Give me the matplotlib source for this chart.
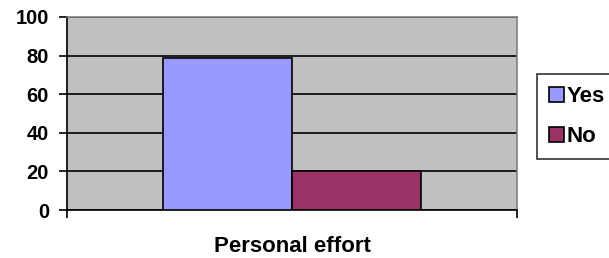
import matplotlib
matplotlib.use("Agg")
import matplotlib.pyplot as plt
from matplotlib.patches import Patch

# Data
category = "Personal effort"
series_names = ["Yes", "No"]
values = [79, 20]
colors = ["#9999FF", "#993366"]
yticks = [0, 20, 40, 60, 80, 100]

plt.rcParams["font.family"] = ["Liberation Sans", "DejaVu Sans"]

fig = plt.figure(figsize=(6.09, 2.58), dpi=100)
ax = fig.add_axes([67 / 609, 1 - 210 / 258, 450 / 609, 193 / 258])
ax.set_facecolor("#C0C0C0")

width = 0.287
offsets = [-width / 2, width / 2]
for name, val, col, off in zip(series_names, values, colors, offsets):
    ax.bar(off, val, width=width, color=col, edgecolor="black", linewidth=1.2, zorder=3)

ax.set_xlim(-0.5, 0.5)
ax.set_ylim(0, 100)
ax.set_yticks(yticks)
ax.set_yticklabels([str(t) for t in yticks], fontsize=14.5, fontweight="bold")
ax.yaxis.grid(True, color="black", linewidth=1.2, zorder=1)
ax.set_axisbelow(True)

ax.set_xticks([-0.5, 0.5])
ax.set_xticklabels(["", ""])
ax.tick_params(axis="x", direction="out", length=6, width=1.2, color="black")
ax.tick_params(axis="y", direction="out", length=6, width=1.2, color="black", pad=7)
ax.text(0, -0.135, category, transform=ax.get_xaxis_transform(), ha="center", va="top",
        fontsize=16, fontweight="bold")

for side in ["top", "right"]:
    ax.spines[side].set_color("#808080")
    ax.spines[side].set_linewidth(1.2)
for side in ["left", "bottom"]:
    ax.spines[side].set_color("black")
    ax.spines[side].set_linewidth(1.2)

handles = [Patch(facecolor=c, edgecolor="black", linewidth=1.2, label=n)
           for n, c in zip(series_names, colors)]
leg = fig.legend(handles=handles, loc="upper left",
                 bbox_to_anchor=(537 / 609, 1 - 74 / 258, 0.2, 0.0), mode="expand",
                 frameon=True, fancybox=False, prop={"size": 16, "weight": "bold"},
                 handlelength=0.68, handleheight=0.68, handletextpad=0.12, labelspacing=0.85,
                 borderpad=0.55, borderaxespad=0)
leg.get_frame().set_edgecolor("black")
leg.get_frame().set_linewidth(1.2)

fig.savefig("out.png", dpi=100)
